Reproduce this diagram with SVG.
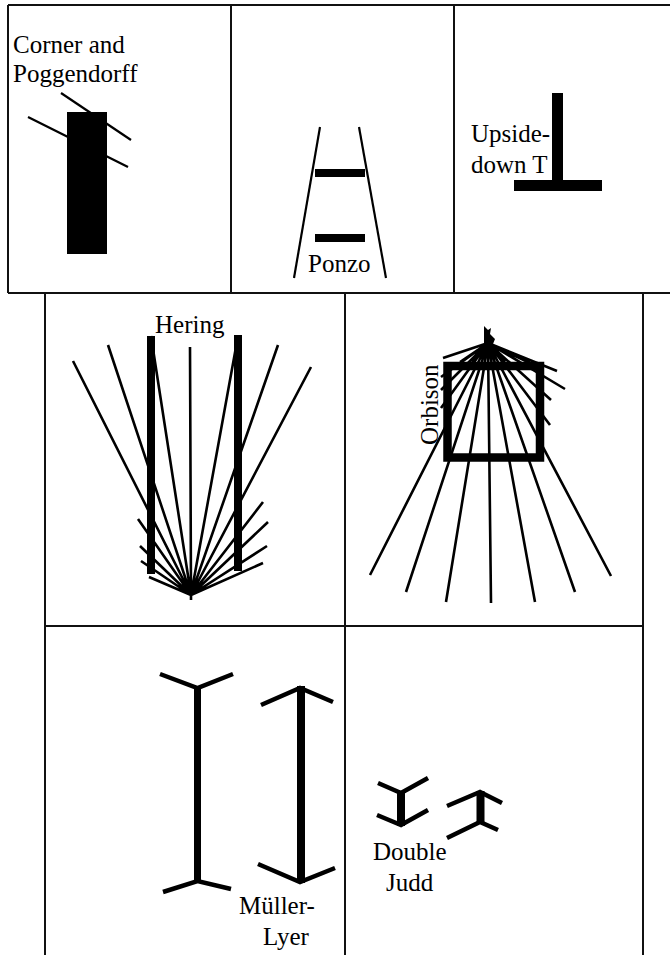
<svg xmlns="http://www.w3.org/2000/svg" width="670" height="955" viewBox="0 0 670 955">
<style>
.frame{stroke:#111;stroke-width:2;fill:none}
.thin{stroke:#000;stroke-width:2.2;fill:none}
.fan{stroke:#000;stroke-width:2.6;fill:none}
.fin{stroke:#000;stroke-width:4.5;fill:none;stroke-linejoin:miter}
.bar{fill:#000}
text{font-family:"Liberation Serif","Times New Roman",serif;font-size:25px;fill:#000}
</style>
<rect width="670" height="955" fill="#fff"/>
<g id="frame">
<path class="frame" d="M8,5H670M8,5V293M8,293H670M231,5V293M454,5V293M45,293V955M345,293V955M643,293V955M45,626H643"/>
</g>
<g id="connectors"></g>
<g id="corner-poggendorff">
<line class="thin" x1="28" y1="117" x2="128" y2="167"/>
<line class="thin" x1="61" y1="93" x2="131" y2="140"/>
<rect class="bar" x="67" y="112" width="40" height="142"/>
<text x="13" y="53">Corner and</text>
<text x="13" y="82">Poggendorff</text>
</g>
<g id="ponzo">
<line class="thin" x1="320" y1="127" x2="294" y2="278"/>
<line class="thin" x1="359" y1="127" x2="386" y2="278"/>
<rect class="bar" x="315" y="169" width="50" height="8"/>
<rect class="bar" x="315" y="234" width="50" height="8"/>
<text x="308" y="272">Ponzo</text>
</g>
<g id="upside-down-t">
<rect class="bar" x="552" y="93" width="11" height="98"/>
<rect class="bar" x="514" y="180" width="88" height="11"/>
<text x="471" y="142">Upside-</text>
<text x="471" y="173">down T</text>
</g>
<g id="hering">
<path class="fan" d="M191,595L73,361M191,595L108,345M191,595L151,336M191,595L190,347M191,595L238,336M191,595L278,345M191,595L311,367M191,595L138,519M191,595L140,546M191,595L141,561M191,595L149,577M191,595L263,502M191,595L268,522M191,595L267,546M191,595L263,563M191,595L191,600"/>
<rect class="bar" x="147" y="336" width="8" height="238"/>
<rect class="bar" x="234" y="335" width="8" height="236"/>
<text x="155" y="333">Hering</text>
</g>
<g id="orbison">
<path class="fan" d="M488,343L370,575M488,343L406,592M488,343L446,602M488,343L491,603M488,343L535,602M488,343L575,592M488,343L611,576M488,343L441,408M488,343L441,390M488,343L441,377M488,343L443,358M488,343L550,425M488,343L551,400M488,343L565,389M488,343L557,371M488,343L460,362M488,343L472,362M488,343L505,362M488,343L520,362M488,343L532,364"/>
<path class="bar" d="M484,326L488,330L491,328L490,334L495,339L493,344L484,344Z"/>
<rect x="447.5" y="366" width="92.5" height="91.5" fill="none" stroke="#000" stroke-width="8.5"/>
<text transform="translate(438,445) rotate(-90)">Orbison</text>
</g>
<g id="muller-lyer">
<rect class="bar" x="194" y="687" width="7" height="195"/>
<polyline class="fin" points="160,674 197.5,688 233,674"/>
<polyline class="fin" points="163,892 197.5,881 231,889"/>
<rect class="bar" x="297" y="686" width="8" height="197"/>
<polyline class="fin" points="261,705 300,688 333,702"/>
<polyline class="fin" points="258,864 300,882 335,868"/>
<text x="239" y="914">Müller-</text>
<text x="263" y="945">Lyer</text>
</g>
<g id="double-judd">
<rect class="bar" x="397" y="791" width="8" height="35"/>
<polyline class="fin" points="378,783 401,793 428,778"/>
<polyline class="fin" points="377,815 401,825 428,810"/>
<rect class="bar" x="476.5" y="791" width="8" height="32"/>
<polyline class="fin" points="447,806 480,792 502,803"/>
<polyline class="fin" points="447,838 480,822 498,830"/>
<text x="373" y="860">Double</text>
<text x="386" y="891">Judd</text>
</g>
</svg>
